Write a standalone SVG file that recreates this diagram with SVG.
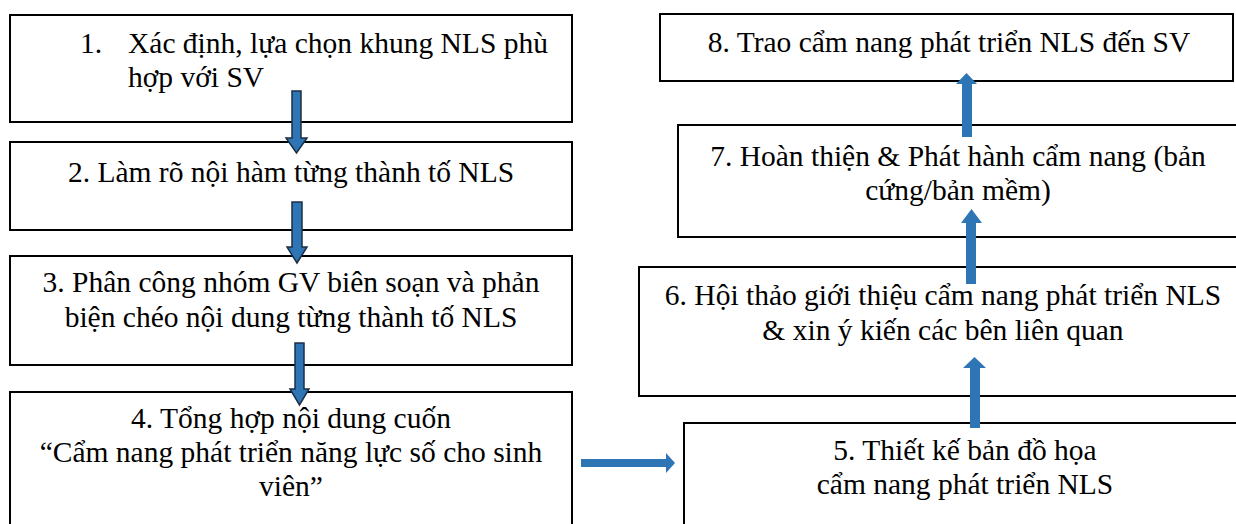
<svg xmlns="http://www.w3.org/2000/svg" width="1236" height="524" viewBox="0 0 1236 524">
<style>
.box{fill:#fff;stroke:#000;stroke-width:2}
.c{text-anchor:middle}
.al{fill:#2E75B6;stroke:#1c2f45;stroke-width:1.5}
.ar{fill:#2E75B6}
</style>
<rect width="1236" height="524" fill="#fff"/>
<g font-family="'Liberation Serif', 'Times New Roman', Times, serif" font-size="29.5" fill="#000">
<g id="n1"><rect class="box" x="10" y="15" width="562" height="107"/>
<text x="80" y="53">1.</text><text x="128" y="53">Xác định, lựa chọn khung NLS phù</text>
<text x="128" y="87">hợp với SV</text></g>
<g id="n2"><rect class="box" x="10" y="142" width="562" height="88"/>
<text class="c" x="291" y="182">2. Làm rõ nội hàm từng thành tố NLS</text></g>
<g id="n3"><rect class="box" x="10" y="256" width="562" height="109"/>
<text class="c" x="291" y="292">3. Phân công nhóm GV biên soạn và phản</text>
<text class="c" x="291" y="327">biện chéo nội dung từng thành tố NLS</text></g>
<g id="n4"><rect class="box" x="10" y="392" width="562" height="150"/>
<text class="c" x="291" y="428">4. Tổng hợp nội dung cuốn</text>
<text class="c" x="291" y="462">“Cẩm nang phát triển năng lực số cho sinh</text>
<text class="c" x="291" y="496">viên”</text></g>
<g id="n5"><rect class="box" x="684" y="423" width="570" height="120"/>
<text class="c" x="965" y="460">5. Thiết kế bản đồ họa</text>
<text class="c" x="965" y="494">cẩm nang phát triển NLS</text></g>
<g id="n6"><rect class="box" x="639" y="267" width="615" height="129"/>
<text class="c" x="943" y="305">6. Hội thảo giới thiệu cẩm nang phát triển NLS</text>
<text class="c" x="943" y="340">&amp; xin ý kiến các bên liên quan</text></g>
<g id="n7"><rect class="box" x="678" y="125" width="576" height="112"/>
<text class="c" x="958" y="166">7. Hoàn thiện &amp; Phát hành cẩm nang (bản</text>
<text class="c" x="958" y="200">cứng/bản mềm)</text></g>
<g id="n8"><rect class="box" x="660" y="14" width="573" height="67"/>
<text class="c" x="949" y="52">8. Trao cẩm nang phát triển NLS đến SV</text></g>
</g>
<g id="connectors">
<path class="al" d="M292,91 H301 V138 H307 L296.5,153 L286,138 H292 Z"/>
<path class="al" d="M292,202 H302 V247 H307 L297,263 L287,247 H292 Z"/>
<path class="al" d="M295,343 H304 V389 H309 L299.5,405 L290,389 H295 Z"/>
<path class="ar" d="M581,459 H666 V453 L675,463 L666,473 V467 H581 Z"/>
<path class="ar" d="M970,428 V368 H963 L974.5,357 L986,368 H980 V428 Z"/>
<path class="ar" d="M966,284 V223 H961 L971.5,209 L982,223 H976 V284 Z"/>
<path class="ar" d="M962,137 V84 H956 L966.5,73 L977,84 H972 V137 Z"/>
</g>
</svg>
